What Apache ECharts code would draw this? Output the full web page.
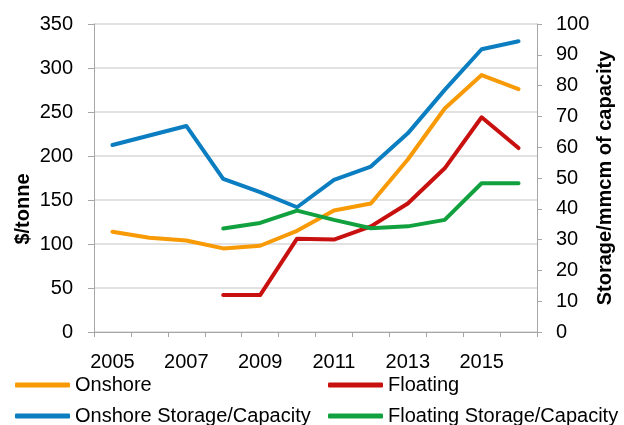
<!DOCTYPE html>
<html>
<head>
<meta charset="utf-8">
<script src="https://cdn.jsdelivr.net/npm/echarts@6/dist/echarts.min.js"></script>
<style>
  html, body { margin: 0; padding: 0; background: #fff; }
  #chart { width: 624px; height: 425px; }
</style>
</head>
<body>
<div id="chart"></div>
<script>
// Years on the category axis
const years = ['2005','2006','2007','2008','2009','2010','2011','2012','2013','2014','2015','2016'];

// Cost per tonne (left axis, $/tonne)
const onshore  = [114, 107, 104, 95, 98, 115, 138, 146, 196, 254, 292, 276];
const floating = [null, null, null, 42, 42, 106, 105, 120, 146, 186, 244, 209];

// Storage per unit of capacity (right axis, Storage/mmcm of capacity)
const onshoreStorage  = [60.7, 63.8, 66.9, 49.7, 45.4, 40.5, 49.4, 53.7, 64.5, 78.6, 91.8, 94.4];
const floatingStorage = [null, null, null, 33.6, 35.4, 39.4, 36.4, 33.7, 34.3, 36.4, 48.3, 48.3];

const FONT = '"Liberation Sans", Arial, sans-serif';
const colors = {
  onshore: '#F79A06',
  floating: '#C8100F',
  onshoreStorage: '#0B7DC1',
  floatingStorage: '#12A13F'
};

const chart = echarts.init(document.getElementById('chart'), null, { renderer: 'canvas' });

function lineSeries(name, data, color, axis) {
  return {
    name: name,
    type: 'line',
    yAxisIndex: axis,
    data: data,
    showSymbol: false,
    symbol: 'none',
    connectNulls: false,
    lineStyle: { color: color, width: 4, cap: 'round', join: 'round' },
    itemStyle: { color: color },
    emphasis: { disabled: true },
    animation: false
  };
}

// One legend entry per box so the two-column layout stays fixed
function legendItem(name, left, top) {
  return {
    data: [name],
    left: left, top: top,
    itemWidth: 55, itemHeight: 5,
    icon: 'roundRect',
    padding: 0,
    textStyle: { fontFamily: FONT, fontSize: 20, color: '#000', lineHeight: 20 },
    selectedMode: false
  };
}

chart.setOption({
  animation: false,
  grid: { left: 94, right: 87, top: 24, bottom: 93, containLabel: false },
  legend: [
    legendItem('Onshore', 15, 375),
    legendItem('Onshore Storage/Capacity', 15, 406),
    legendItem('Floating', 328, 375),
    legendItem('Floating Storage/Capacity', 328, 406)
  ],
  xAxis: {
    type: 'category',
    data: years,
    boundaryGap: true,
    axisLine: { lineStyle: { color: '#A6A6A6', width: 1 } },
    axisTick: { show: true, interval: 0, length: 5, inside: false, lineStyle: { color: '#A6A6A6' } },
    axisLabel: { interval: 1, margin: 20, fontFamily: FONT, fontSize: 20, color: '#000' },
    splitLine: { show: false }
  },
  yAxis: [
    {
      type: 'value',
      min: 0, max: 350, interval: 50,
      position: 'left',
      axisLine: { show: true, lineStyle: { color: '#A6A6A6', width: 1 } },
      axisTick: { show: true, length: 6, lineStyle: { color: '#A6A6A6' } },
      axisLabel: { margin: 21, fontFamily: FONT, fontSize: 20, color: '#000' },
      splitLine: { show: true, lineStyle: { color: '#D9D9D9', width: 1.5 } }
    },
    {
      type: 'value',
      min: 0, max: 100, interval: 10,
      position: 'right',
      axisLine: { show: true, lineStyle: { color: '#A6A6A6', width: 1 } },
      axisTick: { show: true, length: 5, lineStyle: { color: '#A6A6A6' } },
      axisLabel: { margin: 19, fontFamily: FONT, fontSize: 20, color: '#000' },
      splitLine: { show: false }
    }
  ],
  graphic: [
    {
      type: 'text',
      x: 23, y: 209,
      rotation: Math.PI / 2,
      style: {
        text: '$/tonne',
        font: 'bold 20px ' + FONT,
        fill: '#000',
        align: 'center',
        verticalAlign: 'middle'
      }
    },
    {
      type: 'text',
      x: 605, y: 178,
      rotation: Math.PI / 2,
      style: {
        text: 'Storage/mmcm of capacity',
        font: 'bold 20px ' + FONT,
        fill: '#000',
        align: 'center',
        verticalAlign: 'middle'
      }
    }
  ],
  series: [
    lineSeries('Onshore', onshore, colors.onshore, 0),
    lineSeries('Floating', floating, colors.floating, 0),
    lineSeries('Onshore Storage/Capacity', onshoreStorage, colors.onshoreStorage, 1),
    lineSeries('Floating Storage/Capacity', floatingStorage, colors.floatingStorage, 1)
  ]
});
</script>
</body>
</html>
